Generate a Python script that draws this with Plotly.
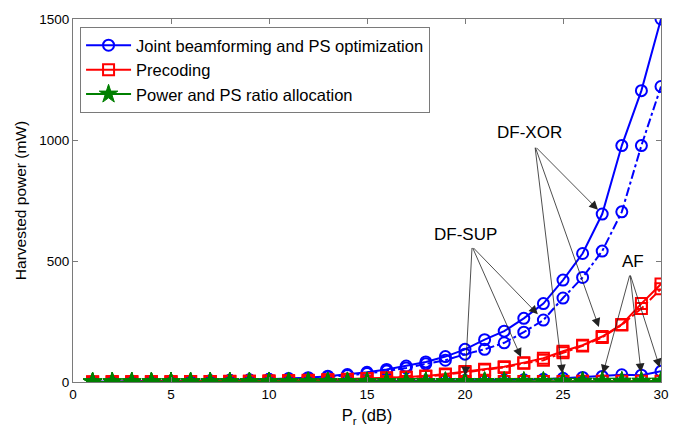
import plotly.graph_objects as go

pr_db = list(range(1, 31))

# Joint beamforming and PS optimization (blue)
blue_xor = [1, 1.5, 2, 2.5, 3, 4, 5, 7, 9, 11, 14, 18, 24, 31, 40, 52, 66, 83, 105, 135,
            175, 210, 263, 324, 421, 531, 694, 977, 1204, 1500]
blue_sup = [1, 1.3, 1.7, 2.2, 2.8, 3.5, 4.5, 6, 8, 10, 12, 16, 21, 27, 35, 45, 58, 75, 90, 115,
            135, 162, 206, 256, 347, 432, 541, 703, 977, 1221]
blue_af = [0.5, 0.6, 0.7, 0.8, 0.9, 1.0, 1.2, 1.4, 1.6, 1.9, 2.2, 2.5, 2.9, 3.3, 3.8, 4.3, 4.8, 5.3, 5.8, 6.3,
           7, 8, 9, 11, 15, 19, 23, 30, 28, 44]

# Precoding (red)
red_xor = [0.5, 0.7, 0.9, 1.1, 1.4, 1.8, 2.2, 2.8, 3.5, 4.5, 5.5, 7, 9, 11, 14, 18, 21, 25, 33, 43,
           53, 63, 80, 98, 127, 152, 188, 238, 324, 405]
red_sup = [0.5, 0.6, 0.8, 1.0, 1.3, 1.6, 2.0, 2.5, 3.1, 4.0, 5.0, 6.3, 8, 10, 12.5, 16, 19, 23, 30, 40,
           50, 60, 77, 90, 121, 149, 184, 236, 304, 385]
red_af = [0.3, 0.35, 0.4, 0.45, 0.5, 0.6, 0.7, 0.8, 0.9, 1.0, 1.1, 1.2, 1.3, 1.4, 1.5, 1.6, 1.7, 1.8, 1.9, 2.0,
          2.1, 2.2, 2.3, 2.4, 2.5, 2.6, 2.7, 2.8, 2.9, 3.0]

# Power and PS ratio allocation (green)
green_xor = [0.3, 0.35, 0.4, 0.45, 0.5, 0.55, 0.6, 0.7, 0.8, 0.9, 1.0, 1.1, 1.2, 1.3, 1.4, 1.5, 1.6, 1.7, 1.8, 1.9,
             2.0, 2.1, 2.2, 2.3, 2.4, 2.5, 2.6, 2.7, 2.8, 3.0]
green_sup = [0.3, 0.33, 0.37, 0.4, 0.45, 0.5, 0.55, 0.6, 0.7, 0.8, 0.9, 1.0, 1.1, 1.2, 1.3, 1.4, 1.5, 1.6, 1.7, 1.8,
             1.9, 2.0, 2.1, 2.2, 2.3, 2.4, 2.5, 2.6, 2.7, 2.8]
green_af = [0.2, 0.22, 0.25, 0.28, 0.3, 0.33, 0.36, 0.4, 0.44, 0.48, 0.52, 0.56, 0.6, 0.65, 0.7, 0.75, 0.8, 0.85,
            0.9, 0.95, 1.0, 1.05, 1.1, 1.15, 1.2, 1.25, 1.3, 1.35, 1.4, 1.5]

legend_names = ["Joint beamforming and PS optimization", "Precoding", "Power and PS ratio allocation"]
x_ticks = [0, 5, 10, 15, 20, 25, 30]
y_ticks = [0, 500, 1000, 1500]

BLUE, RED, GREEN = "#0000FF", "#FF0000", "#008000"
FONT = "Liberation Sans, Arial, sans-serif"

fig = go.Figure()


def add(y, color, symbol, dash, name=None, size=11, filled=False):
    fig.add_trace(go.Scatter(
        x=pr_db, y=y, mode="lines+markers",
        line=dict(color=color, width=2, dash=dash),
        marker=dict(symbol=symbol, size=size, color=color,
                    line=dict(color=color, width=2 if not filled else 1)),
        name=name if name else "series", showlegend=name is not None,
    ))


add(blue_xor, BLUE, "circle-open", "solid", legend_names[0])
add(blue_sup, BLUE, "circle-open", "dashdot")
add(blue_af, BLUE, "circle-open", "solid")
add(red_xor, RED, "square-open", "solid", legend_names[1])
add(red_sup, RED, "square-open", "dashdot")
add(red_af, RED, "square-open", "solid")
add(green_xor, GREEN, "star", "solid", legend_names[2], size=14, filled=True)
add(green_sup, GREEN, "star", "dashdot", size=14, filled=True)
add(green_af, GREEN, "star", "solid", size=14, filled=True)

annotations = []


def arrow(tip_x, tip_y, tail_x, tail_y, standoff):
    annotations.append(dict(
        x=tip_x, y=tip_y, ax=tail_x, ay=tail_y, xref="x", yref="y", axref="x", ayref="y",
        text="", showarrow=True, arrowhead=2, arrowsize=2.2, arrowwidth=0.8,
        arrowcolor="#222", standoff=standoff,
    ))


# DF-XOR label and arrows
xor_tail = (23.57, 974)
arrow(27, blue_xor[26], *xor_tail, 6)
arrow(27, red_xor[26], *xor_tail, 10)
arrow(25, blue_af[24], *xor_tail, 5)
# DF-SUP
sup_tail = (20.36, 560)
arrow(24, blue_sup[23], *sup_tail, 8)
arrow(23, red_sup[22], *sup_tail, 7)
arrow(20, green_sup[19], *sup_tail, 6)
# AF
af_tail = (28.42, 446)
arrow(27, blue_af[26], *af_tail, 3)
arrow(29, blue_af[28], *af_tail, 3)
arrow(30, blue_af[29], *af_tail, 4)

for txt, xx, yy in [("DF-XOR", 23.27, 1031), ("DF-SUP", 20.0, 608), ("AF", 28.57, 498)]:
    annotations.append(dict(x=xx, y=yy, xref="x", yref="y", text=txt, showarrow=False,
                            font=dict(family=FONT, size=17, color="black")))

axis_common = dict(
    showline=True, linecolor="#7a7a7a", linewidth=1, mirror="ticks",
    ticks="inside", ticklen=5, tickcolor="#7a7a7a", showgrid=False, zeroline=False,
    tickfont=dict(family=FONT, size=13.5, color="black"),
)

fig.update_layout(
    width=685, height=434, autosize=False,
    margin=dict(l=73, r=24, t=19, b=47),
    paper_bgcolor="white", plot_bgcolor="white",
    xaxis=dict(range=[0, 30], tickvals=x_ticks,
               title=dict(text="P<sub>r</sub> (dB)", font=dict(family=FONT, size=16.5, color="black"), standoff=8),
               **axis_common),
    yaxis=dict(range=[0, 1500], tickvals=y_ticks,
               title=dict(text="Harvested power (mW)", font=dict(family=FONT, size=15.5, color="black"), standoff=8),
               **axis_common),
    legend=dict(x=0.012, y=0.978, xanchor="left", yanchor="top",
                bordercolor="#7a7a7a", borderwidth=1, bgcolor="white", itemwidth=45,
                font=dict(family=FONT, size=16.5, color="black"), tracegroupgap=0),
    annotations=annotations,
    showlegend=True,
)

fig.write_html("out.html")
